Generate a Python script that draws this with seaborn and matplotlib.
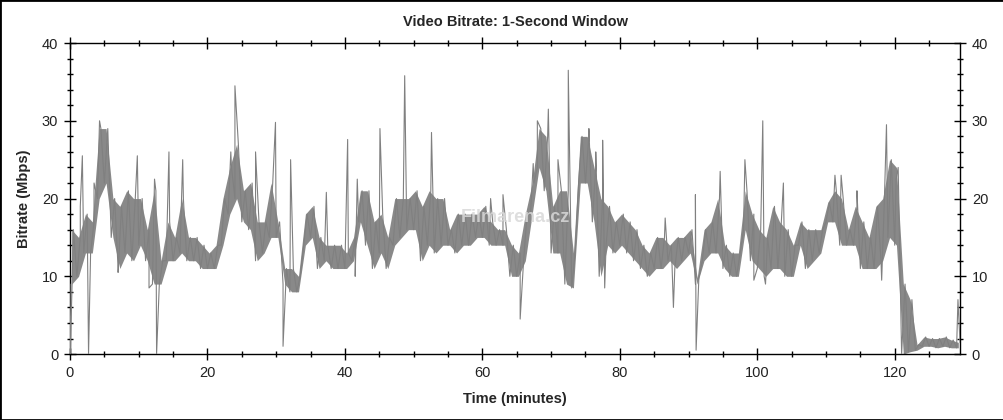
import numpy as np
import pandas as pd
import matplotlib
matplotlib.use("Agg")
import matplotlib.pyplot as plt
import seaborn as sns
from matplotlib.ticker import MultipleLocator
from matplotlib.patches import Rectangle

# per-minute envelope of the 1-second bitrate trace (Mbps)
minutes = list(range(0, 130))
low = [9, 10, 13, 13, 20, 22, 15, 11, 13, 12,
       14, 12, 9, 9, 12, 12, 13, 12, 12, 11,
       11, 11, 14, 18, 20, 17, 16, 12, 13, 15,
       15, 9, 8, 8, 14, 15, 11, 12, 11, 11,
       11, 12, 17, 14, 11, 13, 11, 14, 15, 16,
       16, 12, 14, 13, 14, 14, 13, 14, 14, 15,
       15, 14, 14, 14, 10, 10, 12, 18, 24, 21,
       13, 13, 9, 8.5, 22, 22, 17, 10, 14, 13,
       14, 13, 12, 11, 10, 11, 11, 12, 11, 12,
       13, 9, 12, 13, 13, 11, 10, 10, 16, 12,
       11, 10, 11, 11, 10, 10, 14, 11, 12, 13,
       17, 17, 14, 14, 14, 11, 11, 11, 12, 15,
       14, 0, 0.3, 0.5, 1, 1, 0.8, 1, 0.8, 0.8]
high = [16, 15, 18, 17, 29, 29, 20, 19, 21, 20,
        20, 16, 21, 12, 17, 15, 20, 15, 15, 14,
        13, 14, 20, 24, 27, 21, 22, 17, 17, 22,
        17, 11, 11, 10, 18, 19, 15, 14, 14, 14,
        13, 15, 21, 21, 17, 18, 15, 20, 20, 20,
        21, 19, 21, 20, 20, 16, 18, 18, 18, 18,
        19, 17, 16, 16, 14, 13, 18, 22, 29, 28,
        19, 21, 21, 13, 28, 28, 24, 20, 19, 17,
        18, 17, 16, 14, 13, 15, 15, 14, 15, 15,
        16, 9.8, 16, 17, 20, 14, 13, 13, 21, 18,
        16, 15, 19, 17, 16, 14, 17, 16, 16, 16,
        19.5, 21, 20, 16, 19, 17, 15, 19, 20, 25,
        24, 9, 7, 1.2, 2.2, 2, 2, 2.2, 1.8, 1.5]

# isolated peaks and drop-outs
spike_t = [0.05, 1.5, 1.8, 2.7, 3.5, 4.3, 7.0, 9.8, 11.5, 12.3,
           12.6, 14.4, 16.4, 23.4, 24.0, 27.0, 29.9, 31.0, 32.1, 37.3,
           40.4, 41.5, 41.8, 45.1, 48.7, 52.6, 61.2, 63.0, 65.5, 67.4,
           68.0, 69.6, 71.0, 72.5, 75.5, 76.5, 77.5, 77.8, 86.6, 87.8,
           91.0, 91.1, 94.6, 98.2, 99.5, 100.8, 101.2, 103.8, 111.3, 112.2,
           114.5, 118.1, 118.8, 120.2, 129.2]
spike_v = [0, 19, 25.5, 0, 22, 30, 10.5, 25.5, 8.5, 22.5,
           0, 26, 25, 26, 34.5, 26, 29.8, 1, 25, 20.8,
           27.6, 10, 22.5, 29, 35.8, 28.5, 20, 20.5, 4.5, 24.5,
           30, 31.5, 25, 36.5, 29, 26, 27.5, 8.5, 17.5, 6,
           20.5, 0.5, 23.5, 25, 9.5, 30, 9, 22, 23, 23,
           21, 9.5, 29.5, 22.5, 7]

m = np.array(minutes, dtype=float)
df = pd.DataFrame({
    "t": np.concatenate([m, m + 0.5, spike_t]),
    "v": np.concatenate([low, high, spike_v]),
}).sort_values("t", kind="stable")

sns.set_style("ticks")
plt.rcParams["font.family"] = ["Liberation Sans", "DejaVu Sans"]

fig = plt.figure(figsize=(10.04, 4.2), dpi=100)
ax = fig.add_axes([0.0697, 0.157, 0.8865, 0.7405])

ax.fill_between(m + 0.25, low, high, color="#898989", lw=0, zorder=2)
sns.lineplot(data=df, x="t", y="v", ax=ax, color="#808080", lw=0.8,
             estimator=None, sort=False, zorder=3)

ax.set_xlim(0, 129.5)
ax.set_ylim(0, 40)
ax.xaxis.set_major_locator(MultipleLocator(20))
ax.xaxis.set_minor_locator(MultipleLocator(5))
ax.yaxis.set_major_locator(MultipleLocator(10))
ax.yaxis.set_minor_locator(MultipleLocator(2))
ax.tick_params(which="both", direction="inout", top=True, right=True,
               labelright=True, color="black", labelsize=10.5,
               labelcolor="#222222", width=1)
ax.tick_params(which="major", length=9, pad=4)
ax.tick_params(which="minor", length=5)
for s in ax.spines.values():
    s.set_color("black")
    s.set_linewidth(1)

ax.set_title("Video Bitrate: 1-Second Window", fontsize=10.5,
             fontweight="bold", pad=12)
ax.set_xlabel("Time (minutes)", fontsize=10.5, fontweight="bold", labelpad=9)
ax.set_ylabel("Bitrate (Mbps)", fontsize=10.5, fontweight="bold", labelpad=8)

ax.text(0.5, 0.44, "Filmarena.cz", transform=ax.transAxes, ha="center",
        va="center", fontsize=13, fontweight="bold", color="#d9d9d9",
        alpha=0.85, zorder=5)

fig.patches.append(Rectangle((0, 0), 1, 1, transform=fig.transFigure,
                             fill=False, ec="black", lw=2))

fig.savefig("out.png", dpi=100)
